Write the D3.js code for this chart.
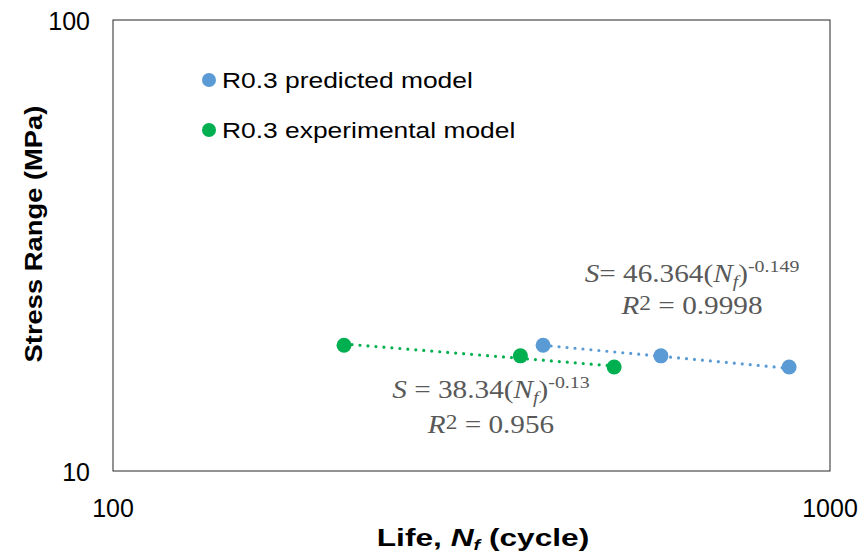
<!DOCTYPE html>
<html>
<head>
<meta charset="utf-8">
<script src="https://cdn.jsdelivr.net/npm/d3@7"></script>
<style>
  body { margin: 0; background: #fff; }
  svg { display: block; }
</style>
</head>
<body>
<div id="chart"></div>
<script>
// data
const seriesNames = ["R0.3 predicted model", "R0.3 experimental model"];
const predictedLife = [398, 581, 877];
const predictedStress = [19, 18, 17];
const experimentalLife = [210, 370, 500];
const experimentalStress = [19, 18, 17];
// trendline fits shown on the chart: S = a * N^b
const fitCoef = [46.364, 38.34];
const fitExp = [-0.149, -0.13];
const fitR2 = ["0.9998", "0.956"];
const xTicks = [100, 1000];
const yTicks = [10, 100];

const width = 863;
const height = 554;
const margin = { top: 20, right: 33, bottom: 83, left: 113 };

const colors = ["#5B9BD5", "#00B050"];
const sans = "Liberation Sans, Arial, sans-serif";
const serif = "Liberation Serif, Times New Roman, serif";

const svg = d3.select("#chart")
  .append("svg")
  .attr("width", width)
  .attr("height", height);

const x = d3.scaleLog()
  .domain([100, 1000])
  .range([margin.left, width - margin.right]);

const y = d3.scaleLog()
  .domain([10, 100])
  .range([height - margin.bottom, margin.top]);

// plot frame
svg.append("rect")
  .attr("x", x(100))
  .attr("y", y(100))
  .attr("width", x(1000) - x(100))
  .attr("height", y(10) - y(100))
  .attr("fill", "none")
  .attr("stroke", "#262626")
  .attr("stroke-width", 1);

// tick labels
svg.append("g")
  .selectAll("text")
  .data(xTicks)
  .enter().append("text")
  .attr("x", d => x(d))
  .attr("y", y(10) + 46)
  .attr("text-anchor", "middle")
  .style("font-family", sans)
  .style("font-size", "25px")
  .attr("fill", "#000")
  .text(d => d);

svg.append("g")
  .selectAll("text")
  .data(yTicks)
  .enter().append("text")
  .attr("x", x(100) - 23)
  .attr("y", d => y(d) + 10)
  .attr("text-anchor", "end")
  .style("font-family", sans)
  .style("font-size", "25px")
  .attr("fill", "#000")
  .text(d => d);

// axis titles (the source draws these a bit wide, so stretch them)
const xTitle = svg.append("g")
  .attr("transform", "translate(483, 546) scale(1.32, 1)")
  .append("text")
  .attr("text-anchor", "middle")
  .style("font-family", sans)
  .style("font-size", "24px")
  .style("font-weight", "bold");
xTitle.append("tspan").text("Life, ");
xTitle.append("tspan").style("font-style", "italic").text("N");
xTitle.append("tspan").style("font-style", "italic").style("font-size", "15px").attr("dy", 4).text("f");
xTitle.append("tspan").attr("dy", -4).text(" (cycle)");

svg.append("g")
  .attr("transform", `translate(42, 234) rotate(-90) scale(1.14, 1)`)
  .append("text")
  .attr("text-anchor", "middle")
  .style("font-family", sans)
  .style("font-size", "24px")
  .style("font-weight", "bold")
  .text("Stress Range (MPa)");

// trendlines (power fits are straight on log-log)
const lifeSets = [predictedLife, experimentalLife];
const stressSets = [predictedStress, experimentalStress];

lifeSets.forEach((life, i) => {
  const n0 = d3.min(life), n1 = d3.max(life);
  svg.append("line")
    .attr("x1", x(n0))
    .attr("y1", y(fitCoef[i] * Math.pow(n0, fitExp[i])))
    .attr("x2", x(n1))
    .attr("y2", y(fitCoef[i] * Math.pow(n1, fitExp[i])))
    .attr("stroke", colors[i])
    .attr("stroke-width", 3.2)
    .attr("stroke-linecap", "round")
    .attr("stroke-dasharray", "0 8");
});

// markers
lifeSets.forEach((life, i) => {
  svg.append("g")
    .selectAll("circle")
    .data(life.map((n, j) => ({ n: n, s: stressSets[i][j] })))
    .enter().append("circle")
    .attr("cx", d => x(d.n))
    .attr("cy", d => y(d.s))
    .attr("r", 7.5)
    .attr("fill", colors[i]);
});

// legend
const legend = svg.append("g");
seriesNames.forEach((name, i) => {
  legend.append("circle")
    .attr("cx", 209)
    .attr("cy", 80 + i * 50)
    .attr("r", 7)
    .attr("fill", colors[i]);
  legend.append("g")
    .attr("transform", `translate(222, ${80 + i * 50 + 8}) scale(1.2, 1)`)
    .append("text")
    .style("font-family", sans)
    .style("font-size", "22px")
    .attr("fill", "#000")
    .text(name);
});

// equation labels
const eqPos = [{ cx: 692, y1: 282, y2: 314 }, { cx: 491, y1: 398, y2: 433 }];

eqPos.forEach((p, i) => {
  const t1 = svg.append("g")
    .attr("transform", `translate(${p.cx}, ${p.y1}) scale(1.17, 1)`)
    .append("text")
    .attr("text-anchor", "middle")
    .style("font-family", serif)
    .style("font-size", "25px")
    .attr("fill", "#595959");
  t1.append("tspan").style("font-style", "italic").text("S");
  t1.append("tspan").text((i === 0 ? "= " : " = ") + fitCoef[i] + "(");
  t1.append("tspan").style("font-style", "italic").text("N");
  t1.append("tspan").style("font-style", "italic").style("font-size", "17px").attr("dy", 5).text("f");
  t1.append("tspan").attr("dy", -5).text(")");
  t1.append("tspan").style("font-size", "17px").attr("dy", -10).text(fitExp[i]);

  const t2 = svg.append("g")
    .attr("transform", `translate(${p.cx}, ${p.y2}) scale(1.17, 1)`)
    .append("text")
    .attr("text-anchor", "middle")
    .style("font-family", serif)
    .style("font-size", "25px")
    .attr("fill", "#595959");
  t2.append("tspan").style("font-style", "italic").text("R");
  t2.append("tspan").style("font-size", "20px").attr("dy", -4).text("2");
  t2.append("tspan").attr("dy", 4).text(" = " + fitR2[i]);
});
</script>
</body>
</html>
